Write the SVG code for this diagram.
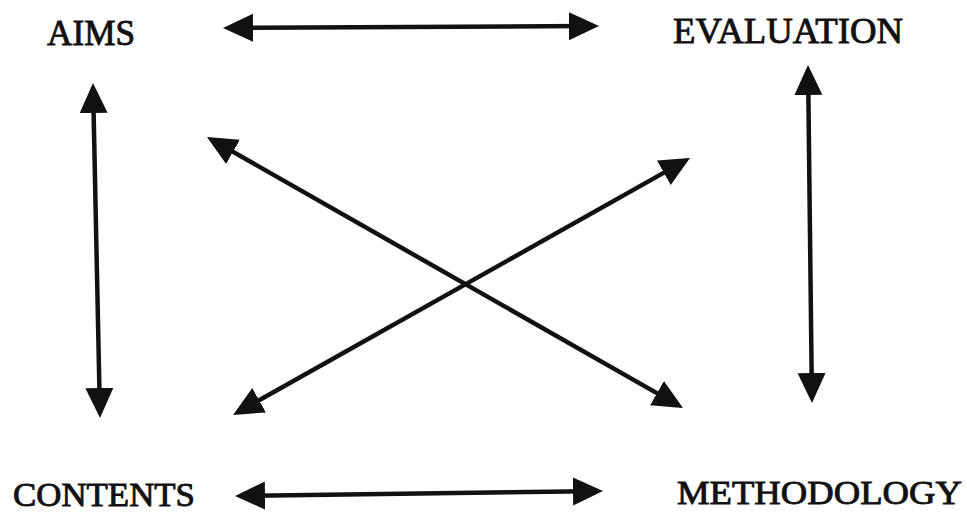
<svg xmlns="http://www.w3.org/2000/svg" width="967" height="515" viewBox="0 0 967 515">
  <style>
    .lbl { font-family: "Liberation Serif", "Times New Roman", serif; font-size: 36px; fill: #111; stroke: #111; stroke-width: 0.9px; }
    .low { font-size: 34px; }
    .conn { stroke: #111; stroke-width: 4.5; fill: none; marker-start: url(#ah); marker-end: url(#ah); }
  </style>
  <defs>
    <marker id="ah" viewBox="0 0 30 30" markerUnits="userSpaceOnUse" markerWidth="30" markerHeight="30" refX="15" refY="15" orient="auto-start-reverse">
      <path d="M0,1 L30,15 L0,29 Z" fill="#111"/>
    </marker>
  </defs>
  <rect width="967" height="515" fill="#ffffff"/>
  <g id="connectors">
    <line class="conn" x1="238" y1="27.9" x2="584" y2="26.1"/>
    <line class="conn" x1="250" y1="495.8" x2="588" y2="491.2"/>
    <line class="conn" x1="93.3" y1="98" x2="99.7" y2="403"/>
    <line class="conn" x1="808.2" y1="80" x2="811.8" y2="388"/>
    <line class="conn" x1="220" y1="144.4" x2="670" y2="400.6"/>
    <line class="conn" x1="246.1" y1="407.6" x2="676.9" y2="165.4"/>
  </g>
  <g id="aims"><text class="lbl" x="47" y="45" textLength="88" lengthAdjust="spacingAndGlyphs">AIMS</text></g>
  <g id="evaluation"><text class="lbl" x="673" y="43" textLength="230" lengthAdjust="spacingAndGlyphs">EVALUATION</text></g>
  <g id="contents"><text class="lbl low" x="13" y="506" textLength="182" lengthAdjust="spacingAndGlyphs">CONTENTS</text></g>
  <g id="methodology"><text class="lbl low" x="677" y="504" textLength="285" lengthAdjust="spacingAndGlyphs">METHODOLOGY</text></g>
</svg>
